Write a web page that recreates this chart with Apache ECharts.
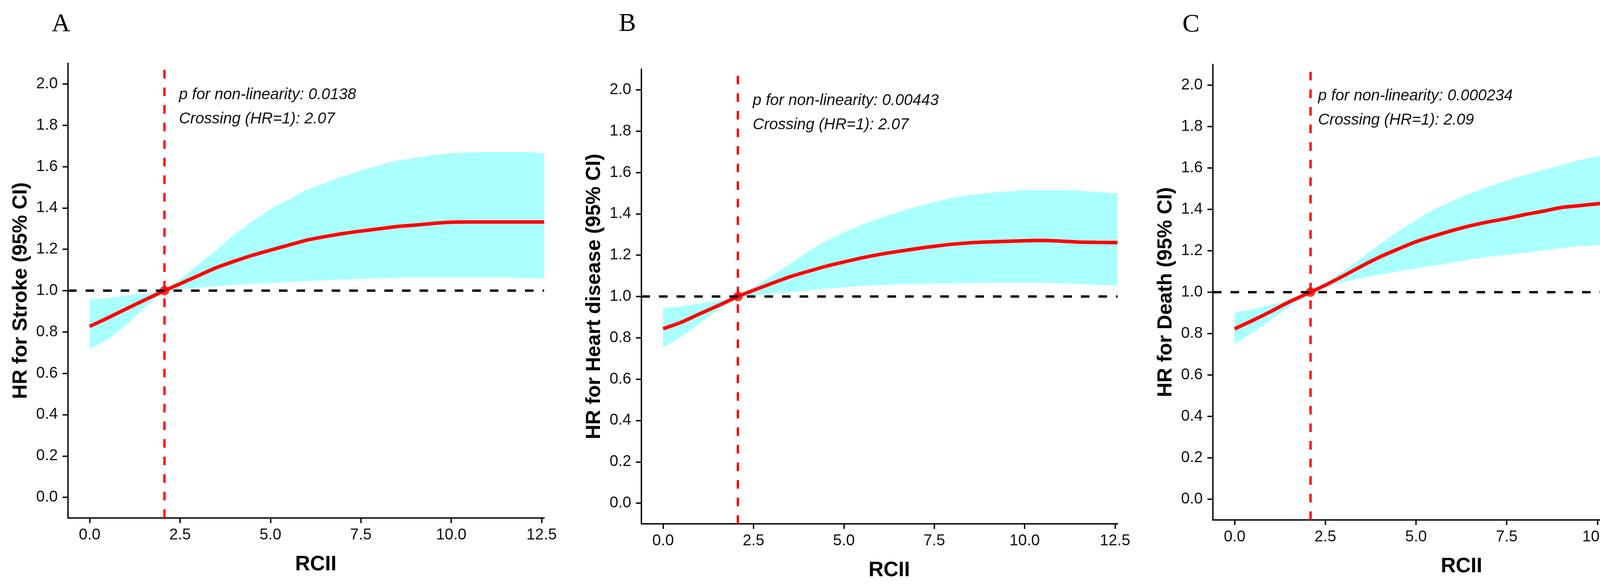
<!DOCTYPE html>
<html>
<head>
<meta charset="utf-8">
<script src="https://cdn.jsdelivr.net/npm/echarts@6/dist/echarts.min.js"></script>
<style>
html, body { margin: 0; padding: 0; background: #fff; }
#main { width: 4379px; height: 1495px; }
</style>
</head>
<body>
<div id="main"></div>
<script>
// RCII values (x) the curves were read at
var rciiAB = [0, 0.5, 1.0, 1.5, 2.07, 2.5, 3.0, 3.5, 4.0, 4.5, 5.0, 5.5, 6.0, 6.5, 7.0, 7.5, 8.0, 8.5, 9.0, 9.5, 10.0, 10.5, 11.0, 11.5, 12.0, 12.57];
var rciiC = [0, 0.5, 1.0, 1.5, 2.09, 2.5, 3.0, 3.5, 4.0, 4.5, 5.0, 5.5, 6.0, 6.5, 7.0, 7.5, 8.0, 8.5, 9.0, 9.5, 10.0, 10.5, 11.0, 11.5, 12.0, 12.57];

// A - stroke
var strokeFit = [0.827, 0.868, 0.911, 0.953, 1.0, 1.033, 1.072, 1.111, 1.142, 1.171, 1.196, 1.220, 1.244, 1.261, 1.276, 1.288, 1.299, 1.310, 1.317, 1.325, 1.331, 1.332, 1.332, 1.332, 1.332, 1.332];
var strokeUpper = [0.957, 0.963, 0.977, 0.985, 1.0, 1.055, 1.125, 1.195, 1.272, 1.335, 1.395, 1.440, 1.487, 1.520, 1.553, 1.581, 1.606, 1.628, 1.642, 1.656, 1.664, 1.669, 1.671, 1.671, 1.671, 1.665];
var strokeLower = [0.717, 0.763, 0.832, 0.915, 1.0, 1.007, 1.015, 1.021, 1.028, 1.033, 1.037, 1.041, 1.046, 1.050, 1.054, 1.057, 1.060, 1.063, 1.064, 1.064, 1.064, 1.064, 1.064, 1.064, 1.062, 1.058];

// B - heart disease
var heartFit = [0.844, 0.875, 0.915, 0.954, 1.0, 1.030, 1.063, 1.095, 1.121, 1.146, 1.167, 1.187, 1.204, 1.218, 1.231, 1.243, 1.253, 1.260, 1.264, 1.267, 1.270, 1.271, 1.268, 1.263, 1.262, 1.261];
var heartUpper = [0.945, 0.951, 0.967, 0.979, 1.0, 1.045, 1.100, 1.156, 1.216, 1.268, 1.310, 1.347, 1.380, 1.408, 1.434, 1.457, 1.477, 1.491, 1.501, 1.508, 1.514, 1.514, 1.514, 1.512, 1.505, 1.499];
var heartLower = [0.753, 0.805, 0.868, 0.932, 1.0, 1.006, 1.014, 1.021, 1.030, 1.038, 1.045, 1.051, 1.055, 1.059, 1.062, 1.063, 1.064, 1.065, 1.066, 1.067, 1.067, 1.066, 1.064, 1.061, 1.056, 1.055];

// C - death
var deathFit = [0.823, 0.864, 0.907, 0.953, 1.0, 1.034, 1.079, 1.126, 1.170, 1.208, 1.244, 1.272, 1.298, 1.321, 1.340, 1.356, 1.375, 1.391, 1.409, 1.418, 1.427, 1.436, 1.444, 1.452, 1.459, 1.466];
var deathUpper = [0.901, 0.918, 0.938, 0.960, 1.0, 1.046, 1.102, 1.166, 1.231, 1.292, 1.348, 1.401, 1.441, 1.477, 1.510, 1.538, 1.566, 1.590, 1.613, 1.638, 1.655, 1.670, 1.680, 1.688, 1.693, 1.699];
var deathLower = [0.749, 0.807, 0.866, 0.928, 1.0, 1.025, 1.049, 1.069, 1.085, 1.100, 1.115, 1.129, 1.144, 1.158, 1.171, 1.181, 1.190, 1.202, 1.213, 1.221, 1.228, 1.234, 1.239, 1.244, 1.250, 1.258];

var xTicks = [0, 2.5, 5.0, 7.5, 10.0, 12.5];
var yTicks = [0, 0.2, 0.4, 0.6, 0.8, 1.0, 1.2, 1.4, 1.6, 1.8, 2.0];
var letters = ['A', 'B', 'C'];
var yTitles = ['HR for Stroke (95% CI)', 'HR for Heart disease (95% CI)', 'HR for Death (95% CI)'];
var pNonLinear = ['0.0138', '0.00443', '0.000234'];
var crossing = [2.07, 2.07, 2.09];

var SANS = '"Liberation Sans", Arial, sans-serif';

var panels = [
	{ x: rciiAB, fit: strokeFit, up: strokeUpper, lo: strokeLower, grid: { left: 174, top: 162, width: 1219, height: 1164 }, textX: 2.47, letter: [156, 63] },
	{ x: rciiAB, fit: heartFit, up: heartUpper, lo: heartLower, grid: { left: 1642, top: 177, width: 1219, height: 1164 }, textX: 2.48, letter: [1606, 62] },
	{ x: rciiC, fit: deathFit, up: deathUpper, lo: deathLower, grid: { left: 3105, top: 165, width: 1223, height: 1166 }, textX: 2.30, letter: [3049, 64] }
];

function zip(xs, ys) {
	var out = [];
	for (var i = 0; i < xs.length; i++) out.push([xs[i], ys[i]]);
	return out;
}

// CI band as one polygon, upper edge then lower edge backwards
function ribbonRenderer(p) {
	return function(params, api) {
		var pts = [];
		for (var i = 0; i < p.x.length; i++) pts.push(api.coord([p.x[i], p.up[i]]));
		for (var j = p.x.length - 1; j >= 0; j--) pts.push(api.coord([p.x[j], p.lo[j]]));
		return { type: 'polygon', shape: { points: pts }, style: { fill: '#AAFFFF' } };
	};
}

var grids = [], xAxes = [], yAxes = [], series = [];

panels.forEach(function(p, i) {
	grids.push({ left: p.grid.left, top: p.grid.top, width: p.grid.width, height: p.grid.height, containLabel: false });

	xAxes.push({
		type: 'value', gridIndex: i, min: -0.6, max: 12.57,
		name: 'RCII', nameLocation: 'middle', nameGap: 93,
		nameTextStyle: { fontFamily: SANS, fontWeight: 'bold', fontSize: 53, color: '#000', padding: [0, 0, 0, 50] },
		axisLine: { show: true, onZero: false, lineStyle: { color: '#000', width: 3.5 } },
		axisTick: { show: true, length: 13, customValues: xTicks, lineStyle: { color: '#000', width: 3.5 } },
		axisLabel: { customValues: xTicks, margin: 24, fontFamily: SANS, fontSize: 40, color: '#111',
			formatter: function(v) { return v.toFixed(1); } },
		splitLine: { show: false }
	});

	yAxes.push({
		type: 'value', gridIndex: i, min: -0.1, max: 2.1,
		name: yTitles[i], nameLocation: 'middle', nameGap: 94, nameRotate: 90,
		nameTextStyle: { fontFamily: SANS, fontWeight: 'bold', fontSize: 52, color: '#000' },
		axisLine: { show: true, onZero: false, lineStyle: { color: '#000', width: 3.5 } },
		axisTick: { show: true, length: 14, customValues: yTicks, lineStyle: { color: '#000', width: 3.5 } },
		axisLabel: { customValues: yTicks, margin: 26, fontFamily: SANS, fontSize: 40, color: '#111',
			formatter: function(v) { return v.toFixed(1); } },
		splitLine: { show: false }
	});

	series.push({
		type: 'custom', xAxisIndex: i, yAxisIndex: i, silent: true, z: 1,
		data: [[0, 1]],
		renderItem: ribbonRenderer(p)
	});

	series.push({
		type: 'line', xAxisIndex: i, yAxisIndex: i, z: 3,
		data: zip(p.x, p.fit), showSymbol: false, smooth: 0.2,
		lineStyle: { color: '#FF0000', width: 9 },
		markLine: {
			silent: true, symbol: 'none', label: { show: false },
			lineStyle: { type: [22, 23], width: 6 },
			data: [
				{ yAxis: 1, lineStyle: { color: '#000000' } },
				{ xAxis: crossing[i], lineStyle: { color: '#FF0000' } }
			]
		}
	});

	series.push({
		type: 'scatter', xAxisIndex: i, yAxisIndex: i, z: 4,
		data: [[crossing[i], 1]], symbolSize: 24,
		itemStyle: { color: '#FF0000' }
	});
});

var chart = echarts.init(document.getElementById('main'));
chart.setOption({
	backgroundColor: '#fff',
	animation: false,
	grid: grids,
	xAxis: xAxes,
	yAxis: yAxes,
	series: series
});

// annotations and panel letters
var graphics = [];
panels.forEach(function(p, i) {
	var l1 = chart.convertToPixel({ gridIndex: i }, [p.textX, 1.947]);
	var l2 = chart.convertToPixel({ gridIndex: i }, [p.textX, 1.830]);
	graphics.push({ type: 'text', x: l1[0], y: l1[1], style: { text: 'p for non-linearity: ' + pNonLinear[i],
		font: 'italic 40px ' + SANS, fill: '#111', textVerticalAlign: 'middle' } });
	graphics.push({ type: 'text', x: l2[0], y: l2[1], style: { text: 'Crossing (HR=1): ' + crossing[i].toFixed(2),
		font: 'italic 40px ' + SANS, fill: '#111', textVerticalAlign: 'middle' } });
	graphics.push({ type: 'text', x: p.letter[0], y: p.letter[1], style: { text: letters[i],
		font: '66px "Liberation Serif", "Times New Roman", serif', fill: '#000', textAlign: 'center', textVerticalAlign: 'middle' } });
});
chart.setOption({ graphic: graphics });
</script>
</body>
</html>
